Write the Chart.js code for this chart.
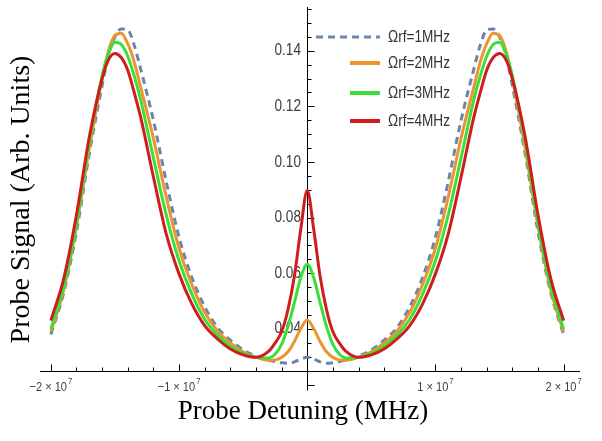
<!DOCTYPE html>
<html>
<head>
<meta charset="utf-8">
<script src="https://cdn.jsdelivr.net/npm/chart.js@4.4.1/dist/chart.umd.min.js"></script>
<style>
    html, body { margin: 0; padding: 0; background: #ffffff; }
</style>
</head>
<body>
<canvas id="chart-canvas" width="602" height="441"></canvas>
<script>
// Probe detuning grid (Hz), denser around the peaks
const detuning = [
    -2.0e7, -1.9e7, -1.8e7, -1.7e7, -1.6e7, -1.55e7, -1.5e7, -1.45e7, -1.4e7, -1.35e7, -1.3e7,
    -1.2e7, -1.1e7, -1.0e7, -9e6, -8e6, -7e6, -6e6, -5e6, -4e6, -3e6, -2.5e6, -2e6, -1.5e6, -1e6, -5e5,
    0,
    5e5, 1e6, 1.5e6, 2e6, 2.5e6, 3e6, 4e6, 5e6, 6e6, 7e6, 8e6, 9e6, 1.0e7, 1.1e7, 1.2e7,
    1.3e7, 1.35e7, 1.4e7, 1.45e7, 1.5e7, 1.55e7, 1.6e7, 1.7e7, 1.8e7, 1.9e7, 2.0e7
];

// Probe signal, one array per RF Rabi frequency
const signal1MHz = [
    0.038, 0.053, 0.075, 0.103, 0.1275, 0.1385, 0.145, 0.1478, 0.1475, 0.142, 0.1335,
    0.115, 0.093, 0.073, 0.0585, 0.048, 0.0405, 0.036, 0.0325, 0.0302, 0.0288, 0.0283, 0.0279, 0.0277, 0.0282, 0.0292,
    0.0298,
    0.0292, 0.0282, 0.0277, 0.0279, 0.0283, 0.0288, 0.0302, 0.0325, 0.036, 0.0405, 0.048, 0.0585, 0.073, 0.093, 0.115,
    0.1335, 0.142, 0.1475, 0.1478, 0.145, 0.1385, 0.1275, 0.103, 0.075, 0.053, 0.038
];
const signal2MHz = [
    0.039, 0.054, 0.077, 0.105, 0.130, 0.140, 0.1455, 0.1463, 0.1425, 0.136, 0.127,
    0.1085, 0.0875, 0.069, 0.056, 0.046, 0.0393, 0.035, 0.0318, 0.0298, 0.0288, 0.0289, 0.0298, 0.0318, 0.0355, 0.0402,
    0.0432,
    0.0402, 0.0355, 0.0318, 0.0298, 0.0289, 0.0288, 0.0298, 0.0318, 0.035, 0.0393, 0.046, 0.056, 0.069, 0.0875, 0.1085,
    0.127, 0.136, 0.1425, 0.1463, 0.1455, 0.140, 0.130, 0.105, 0.077, 0.054, 0.039
];
const signal3MHz = [
    0.040, 0.055, 0.078, 0.107, 0.131, 0.139, 0.1430, 0.1422, 0.138, 0.131, 0.1225,
    0.1015, 0.081, 0.0645, 0.0525, 0.0435, 0.0378, 0.0338, 0.0312, 0.0298, 0.0296, 0.031, 0.0345, 0.041, 0.0495, 0.0585,
    0.0633,
    0.0585, 0.0495, 0.041, 0.0345, 0.031, 0.0296, 0.0298, 0.0312, 0.0338, 0.0378, 0.0435, 0.0525, 0.0645, 0.081, 0.1015,
    0.1225, 0.131, 0.138, 0.1422, 0.1430, 0.139, 0.131, 0.107, 0.078, 0.055, 0.040
];
const signal4MHz = [
    0.043, 0.058, 0.081, 0.109, 0.130, 0.1368, 0.139, 0.1375, 0.133, 0.125, 0.1162,
    0.0946, 0.0742, 0.0598, 0.049, 0.0412, 0.0364, 0.0328, 0.0307, 0.0298, 0.032, 0.035, 0.039, 0.047, 0.059, 0.076,
    0.0898,
    0.076, 0.059, 0.047, 0.039, 0.035, 0.032, 0.0298, 0.0307, 0.0328, 0.0364, 0.0412, 0.049, 0.0598, 0.0742, 0.0946,
    0.1162, 0.125, 0.133, 0.1375, 0.139, 0.1368, 0.130, 0.109, 0.081, 0.058, 0.043
];

const seriesLabels = ['\u03A9rf=1MHz', '\u03A9rf=2MHz', '\u03A9rf=3MHz', '\u03A9rf=4MHz'];

// Tick labels (x labels are mantissa x 10^exponent)
const xTickValues = [-2e7, -1e7, 1e7, 2e7];
const xTickLabels = ['\u22122 \u00D7 10', '\u22121 \u00D7 10', '1 \u00D7 10', '2 \u00D7 10'];
const xTickExponent = '7';
const yTickValues = [0.04, 0.06, 0.08, 0.10, 0.12, 0.14];
const yTickLabels = ['0.04', '0.06', '0.08', '0.10', '0.12', '0.14'];

function toPoints(values) {
    return detuning.map((x, i) => ({ x: x, y: values[i] }));
}

// Draws text squeezed horizontally (the original labels use a narrow face)
function drawNarrow(ctx, text, x, y, align, sx) {
    const w = ctx.measureText(text).width * sx;
    const left = align === 'right' ? x - w : (align === 'center' ? x - w / 2 : x);
    ctx.save();
    ctx.translate(left, y);
    ctx.scale(sx, 1);
    ctx.textAlign = 'left';
    ctx.fillText(text, 0, 0);
    ctx.restore();
    return w;
}

// Mathematica-style inward ticks and tick labels, placed with the chart's scales
const axisTicks = {
    id: 'axisTicks',
    beforeDatasetsDraw(chart) {
        const { ctx, scales: { x, y } } = chart;
        const x0 = Math.round(x.getPixelForValue(0)) + 0.5;
        const yAxis = Math.round(y.getPixelForValue(y.min)) + 0.5;
        ctx.save();
        ctx.strokeStyle = '#000';
        ctx.lineWidth = 1;
        ctx.beginPath();
        // y ticks every 0.005, longer at labelled values
        for (let k = 4; k <= 31; k++) {
            const py = Math.round(y.getPixelForValue(k * 0.005)) + 0.5;
            if (py < y.top - 1) continue;
            const len = (k % 4 === 0) ? 7 : 4;
            ctx.moveTo(x0, py);
            ctx.lineTo(x0 + len, py);
        }
        // y axis continues a little below the x axis
        ctx.moveTo(x0, yAxis);
        ctx.lineTo(x0, Math.round(y.getPixelForValue(0.018)) + 0.5);
        // x ticks every 2e6
        for (let k = -10; k <= 10; k++) {
            if (k === 0) continue;
            const px = Math.round(x.getPixelForValue(k * 2e6)) + 0.5;
            const len = (k % 5 === 0) ? 7 : 4;
            ctx.moveTo(px, yAxis);
            ctx.lineTo(px, yAxis - len);
        }
        ctx.stroke();

        ctx.fillStyle = '#3c3c3c';
        ctx.textBaseline = 'alphabetic';
        // y labels, left of the centre axis
        ctx.font = '16px "Liberation Sans", Arial, sans-serif';
        yTickValues.forEach((v, i) => {
            const py = y.getPixelForValue(v);
            drawNarrow(ctx, yTickLabels[i], x0 - 6.5, py + 4.5, 'right', 0.85);
        });
        // x labels with superscript exponent
        xTickValues.forEach((v, i) => {
            const px = x.getPixelForValue(v);
            ctx.font = '13px "Liberation Sans", Arial, sans-serif';
            const wm = ctx.measureText(xTickLabels[i]).width * 0.85;
            ctx.font = '9px "Liberation Sans", Arial, sans-serif';
            const we = ctx.measureText(xTickExponent).width * 0.85;
            const left = px - (wm + we + 1) / 2;
            ctx.font = '13px "Liberation Sans", Arial, sans-serif';
            drawNarrow(ctx, xTickLabels[i], left, 390.5, 'left', 0.85);
            ctx.font = '9px "Liberation Sans", Arial, sans-serif';
            drawNarrow(ctx, xTickExponent, left + wm + 1, 384, 'left', 0.85);
        });
        ctx.restore();
    }
};

// Legend in the upper middle, samples of different lengths
const insetLegend = {
    id: 'insetLegend',
    afterDatasetsDraw(chart) {
        const { ctx } = chart;
        const rows = [37, 63, 93, 121];
        ctx.save();
        chart.data.datasets.forEach((ds, i) => {
            const yRow = rows[i];
            ctx.beginPath();
            ctx.strokeStyle = ds.borderColor;
            ctx.lineWidth = i === 0 ? 3 : 4;
            ctx.setLineDash(ds.borderDash || []);
            ctx.moveTo(i === 0 ? 316 : 350, yRow);
            ctx.lineTo(380, yRow);
            ctx.stroke();
            ctx.setLineDash([]);
            ctx.fillStyle = '#333';
            ctx.font = '16px "Liberation Sans", Arial, sans-serif';
            ctx.textBaseline = 'middle';
            drawNarrow(ctx, seriesLabels[i], 388, yRow + 1, 'left', 0.85);
        });
        ctx.restore();
    }
};

const ctx = document.getElementById('chart-canvas');

new Chart(ctx, {
    type: 'line',
    data: {
        datasets: [
            {
                label: seriesLabels[0],
                data: toPoints(signal1MHz),
                borderColor: '#6b84ad',
                borderWidth: 3,
                borderDash: [7, 5],
                order: 4
            },
            {
                label: seriesLabels[1],
                data: toPoints(signal2MHz),
                borderColor: '#ec9430',
                borderWidth: 3,
                order: 3
            },
            {
                label: seriesLabels[2],
                data: toPoints(signal3MHz),
                borderColor: '#3adf3a',
                borderWidth: 3,
                order: 2
            },
            {
                label: seriesLabels[3],
                data: toPoints(signal4MHz),
                borderColor: '#cf1c1c',
                borderWidth: 3,
                order: 1
            }
        ]
    },
    options: {
        responsive: false,
        animation: false,
        layout: { padding: { left: 0, right: 23, top: 7, bottom: 4 } },
        elements: {
            point: { radius: 0 },
            line: { cubicInterpolationMode: 'monotone', fill: false }
        },
        plugins: {
            legend: { display: false },
            tooltip: { enabled: false }
        },
        scales: {
            x: {
                type: 'linear',
                position: 'bottom',
                min: -2.08e7,
                max: 2.12e7,
                grid: { display: false, drawTicks: false },
                border: { display: true, color: '#000', width: 1 },
                ticks: { display: false },
                title: {
                    display: true,
                    text: 'Probe Detuning (MHz)  ',
                    color: '#000',
                    font: { family: '"Liberation Serif", "Times New Roman", serif', size: 27 },
                    padding: { top: 24.6, bottom: 9 }
                }
            },
            y: {
                type: 'linear',
                position: { x: 0 },
                min: 0.0249,
                max: 0.1557,
                grid: { display: false, drawTicks: false },
                border: { display: true, color: '#000', width: 1 },
                ticks: { display: false }
            },
            yTitle: {
                type: 'linear',
                position: 'left',
                display: true,
                grid: { display: false, drawTicks: false },
                border: { display: false },
                ticks: { display: false },
                title: {
                    display: true,
                    text: 'Probe Signal (Arb. Units)   ',
                    color: '#000',
                    font: { family: '"Liberation Serif", "Times New Roman", serif', size: 28 },
                    padding: { top: 5, bottom: 2 }
                }
            }
        }
    },
    plugins: [axisTicks, insetLegend]
});
</script>
</body>
</html>
